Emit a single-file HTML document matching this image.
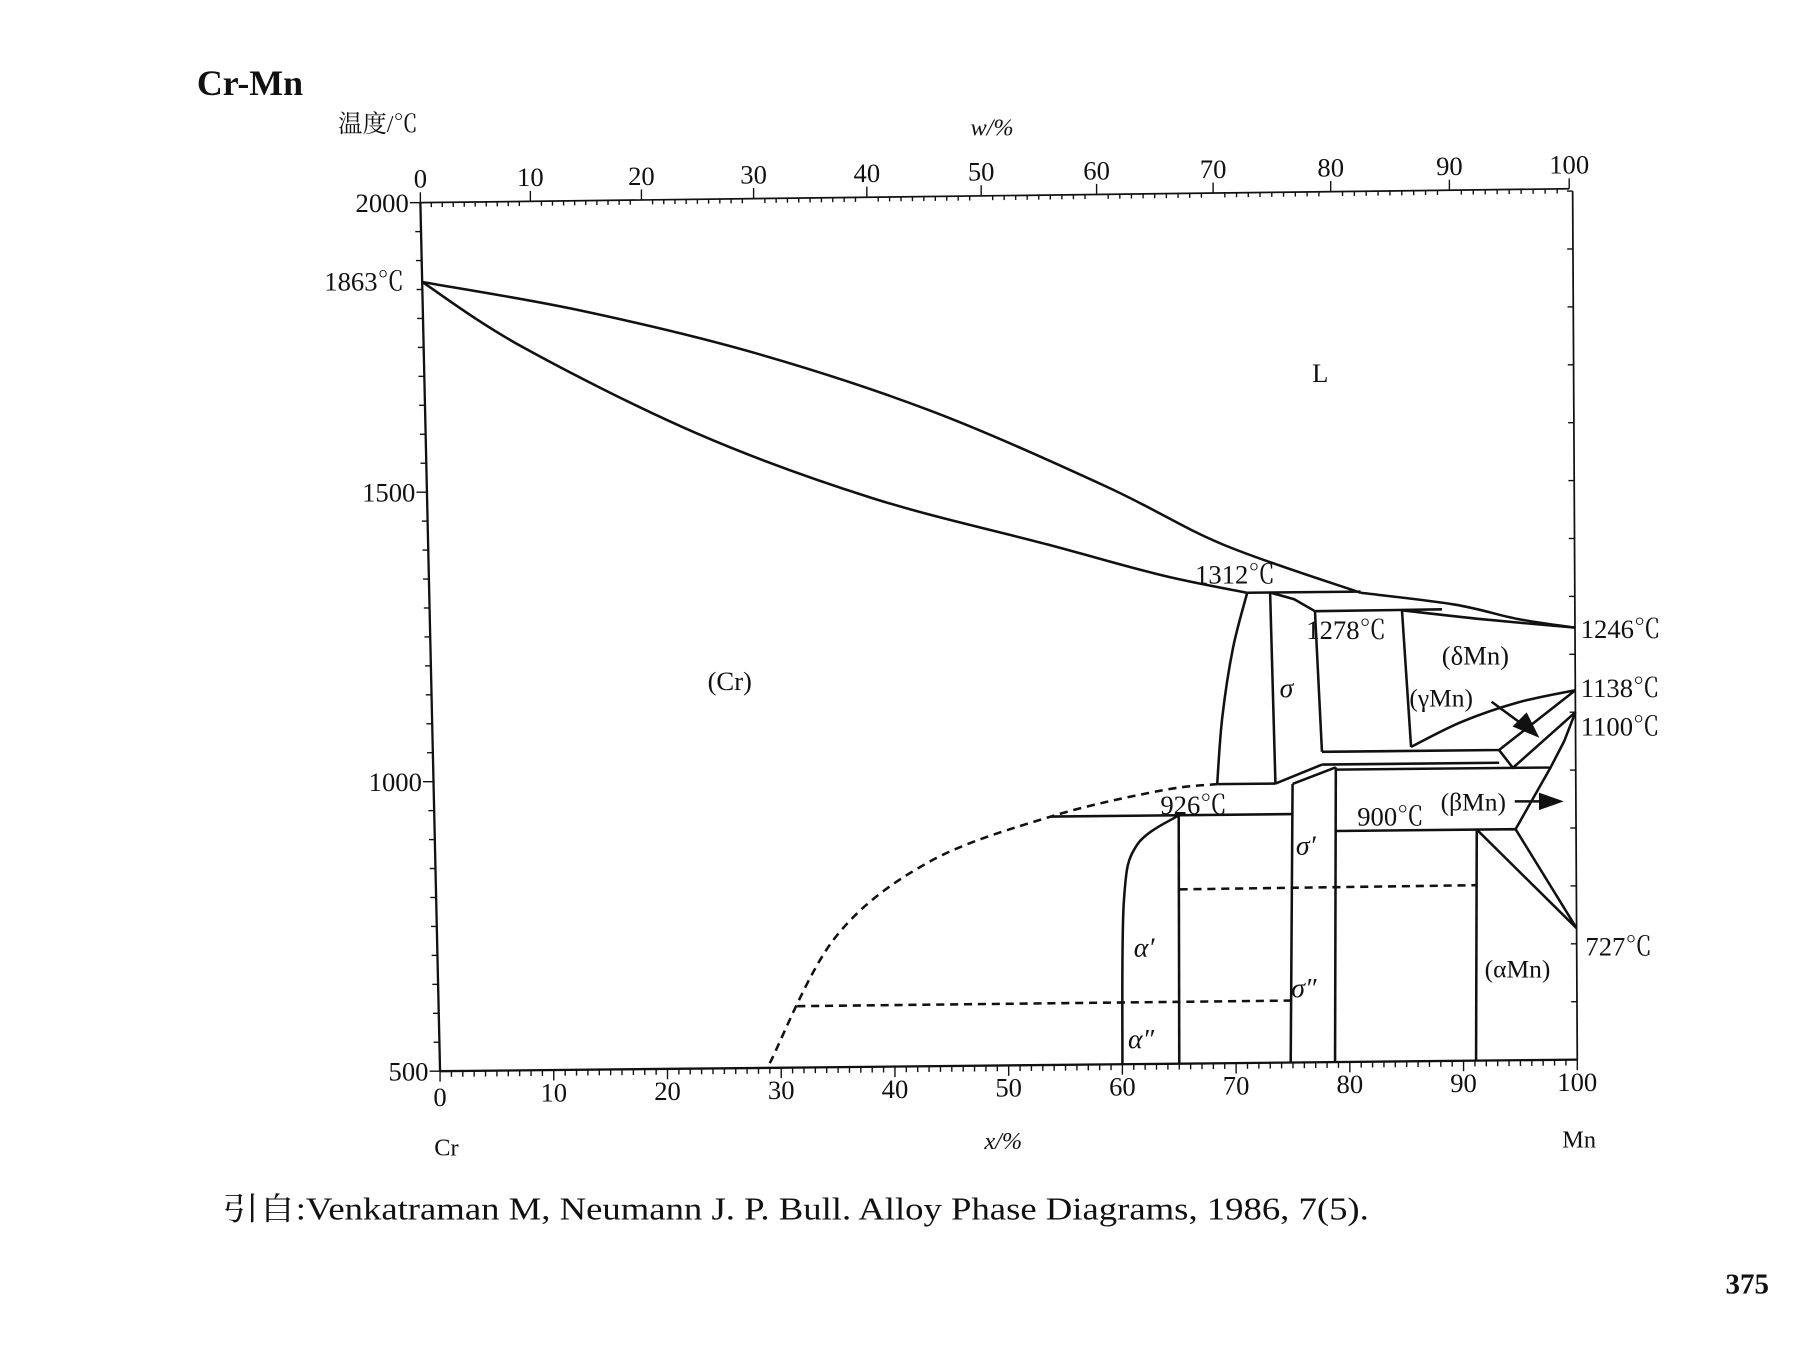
<!DOCTYPE html>
<html><head><meta charset="utf-8"><style>
html,body{margin:0;padding:0;background:#fff;}
svg{display:block;}
text{font-family:"Liberation Serif","Noto Serif CJK SC",serif;fill:#111;}
</style></head><body>
<svg id="chart" width="1795" height="1346" viewBox="0 0 1550 1162.3" preserveAspectRatio="none" xmlns="http://www.w3.org/2000/svg">
<g id="axes"></g>
<g id="curves" fill="none" stroke="#111" stroke-width="2.2" stroke-linejoin="round"></g>
<text x="170" y="82" font-size="31" font-weight="bold">Cr-Mn</text>
<text x="292" y="114" font-size="21">温度/℃</text>
<text x="838" y="117" font-size="21" font-style="italic">w/%</text>
<text x="850" y="992" font-size="21" font-style="italic">x/%</text>
<text x="375" y="998" font-size="21">Cr</text>
<text x="1349" y="991" font-size="21">Mn</text>
<text x="280" y="251" font-size="23">1863℃</text>
<text x="1365" y="551" font-size="23">1246℃</text>
<text x="1365" y="602" font-size="23">1138℃</text>
<text x="1365" y="635" font-size="23">1100℃</text>
<text x="1369" y="825" font-size="23">727℃</text>
<text x="1133" y="330" font-size="23">L</text>
<text x="611" y="596" font-size="23">(Cr)</text>
<text x="1032" y="504" font-size="23">1312℃</text>
<text x="1128" y="552" font-size="23">1278℃</text>
<text x="1245" y="574" font-size="23">(δMn)</text>
<text x="1105" y="602" font-size="24" font-style="italic">σ</text>
<text x="1217" y="610" font-size="22">(γMn)</text>
<text x="1002" y="703" font-size="23">926℃</text>
<text x="1172" y="713" font-size="23">900℃</text>
<text x="1244" y="700" font-size="22">(βMn)</text>
<text x="1119" y="738" font-size="24" font-style="italic">σ′</text>
<text x="979" y="826" font-size="24" font-style="italic">α′</text>
<text x="1115" y="861" font-size="24" font-style="italic">σ″</text>
<text x="1282" y="844" font-size="22">(αMn)</text>
<text x="974" y="905" font-size="24" font-style="italic">α″</text>
<text x="192" y="1053" font-size="27" textLength="990" lengthAdjust="spacingAndGlyphs">引自:Venkatraman M, Neumann J. P. Bull.  Alloy Phase Diagrams, 1986, 7(5).</text>
<text x="1490" y="1117" font-size="25" font-weight="bold">375</text>
<g stroke="#111" stroke-width="2.2" fill="#111">
<line x1="1288" y1="606" x2="1318" y2="628"/>
<polygon points="1327,635 1308,627 1318,617"/>
<line x1="1308" y1="692" x2="1335" y2="692"/>
<polygon points="1347,692 1330,686 1330,698"/>
</g>
</svg>
<script>
// ---- data (x = at.% Mn, T = °C) ----
const xTicks=[0,10,20,30,40,50,60,70,80,90,100];
const wTicks=[0,10,20,30,40,50,60,70,80,90,100];
const tTicks=[500,1000,1500,2000];
const liquidusCr=[[0,1863],[13.7,1811],[28.9,1734],[44.1,1631],[59.2,1498],[69.3,1396],[81.3,1310]];
const solidusCr=[[0,1863],[8.6,1749],[23.7,1596],[38.8,1482],[54,1399],[64.1,1343],[71.4,1312]];
const liquidusMn=[[81.3,1310],[89.5,1288],[95,1262],[100,1246]];
const solidusMn=[[84.9,1279],[92,1262],[100,1246]];
const eutectic1312=[[71.4,1312],[81.3,1312]];
const peritectic1278=[[77.3,1279],[88.4,1280]];
const sigmaLeft=[[71.4,1312],[70.1,1216],[69.1,1096],[68.6,982]];
const sigmaRight=[[73.4,1312],[73.7,982]];
const sigmaTop=[[73.4,1312],[75.5,1300],[77.3,1279],[77.8,1036]];
const eutectoid=[[68.6,982],[73.7,982]];
const ramp1=[[73.7,982],[77.8,1014]];
const ramp2=[[75.2,981],[79,1009]];
const sigmaPrimeL=[[75.2,981],[74.8,500]];
const sigmaPrimeR=[[79,1009],[78.7,500]];
const deltaLeft=[[84.9,1279],[85.6,1043]];
const gammaDelta=[[85.6,1043],[90,1085],[95,1118],[100,1138]];
const line1138a=[[77.8,1036],[93.3,1036],[100,1138]];
const line1138b=[[77.8,1014],[93.3,1014]];
const gammaLow=[[93.3,1036],[94.5,1005],[100,1100]];
const betaTop=[[79,1005],[97.8,1005],[99,1050],[100,1100]];
const betaRight=[[97.8,1005],[94.7,899]];
const line900=[[79,899],[94.7,899],[100,727]];
const alphaMnL=[[91.3,899],[100,727]];
const alphaMnV=[[91.3,899],[91.1,500]];
const line926=[[54,929],[75.2,929]];
const alphaPrimeCurve=[[65.2,929],[61.5,878],[60.3,780],[60,500]];
const alphaPrimeV=[[65.2,929],[65,500]];
const dome=[[29,508],[34.9,723],[43.2,852],[54,929],[63.7,972],[68.6,982]];
const dash800=[[65.2,801],[91.3,803]];
const dash600=[[31.5,606],[75.2,607]];
// ---- axis functions (bilinear, scan skew) ----
function px(x,T){const f=(T-500)/1500;return 380+9.82*x - f*(17*(1-x/100)+4*(x/100));}
function py(x,T){const f=(T-500)/1500;return 925-0.1*x - f*750;}
function wpx(w){return 363+9.45*w+0.0047*w*w;}
function wpy(w){return 175-0.12*w;}
const NS="http://www.w3.org/2000/svg";
const axes=document.getElementById('axes'),curves=document.getElementById('curves');
function mk(tag,attrs,parent){const e=document.createElementNS(NS,tag);for(const k in attrs)e.setAttribute(k,attrs[k]);parent.appendChild(e);return e;}
function line(x1,y1,x2,y2,w,name){const e=mk('line',{x1:x1,y1:y1,x2:x2,y2:y2,stroke:'#111','stroke-width':w},axes);

return e;}
function txt(s,x,y,anchor,name){const e=mk('text',{x:x,y:y,'font-size':23,'text-anchor':anchor},axes);e.textContent=s;

return e;}
line(px(0,500),py(0,500),px(0,2000),py(0,2000),2,'left-axis');
line(px(0,500),py(0,500),px(100,500),py(100,500),2,'bottom-axis');
line(px(100,500),py(100,500),px(100,2000),py(100,2000),1.5,'right-axis');
line(wpx(0),wpy(0),wpx(100),wpy(100),1.5,'top-axis');
for(let i=0;i<=100;i++){const X=px(i,500),Y=py(i,500);const maj=i%10===0;line(X,Y,X,Y+(maj?9:5),1.2,maj?'x-major-tick':'x-minor-tick');}
xTicks.forEach(v=>{txt(String(v),px(v,500),py(v,500)+(v===0?30:27),'middle','x-tick-label');});
for(let i=0;i<=100;i++){const X=wpx(i),Y=wpy(i);const maj=i%10===0;line(X,Y,X,Y+(maj?-9:4),1.2,maj?'w-major-tick':'w-minor-tick');}
wTicks.forEach(v=>{txt(String(v),wpx(v),wpy(v)-13,'middle','w-tick-label');});
for(let T=500;T<=2000;T+=50){const X=px(0,T),Y=py(0,T);const maj=T%500===0;line(X,Y,X-(maj?9:5),Y,1.2,maj?'y-major-tick':'y-minor-tick');}
tTicks.forEach(v=>{txt(String(v),px(0,v)-10,py(0,v)+8,'end','y-tick-label');});
for(let T=500;T<=2000;T+=100){const X=px(100,T),Y=py(100,T);line(X,Y,X-5,Y,1.2,'right-tick');}
function poly(pts,name,dash,smooth){let d='';
 if(smooth&&pts.length>2){const P=pts.map(p=>[px(p[0],p[1]),py(p[0],p[1])]);d='M'+P[0][0]+','+P[0][1];
  for(let i=0;i<P.length-1;i++){const p0=P[Math.max(i-1,0)],p1=P[i],p2=P[i+1],p3=P[Math.min(i+2,P.length-1)];
   const c1=[p1[0]+(p2[0]-p0[0])/6,p1[1]+(p2[1]-p0[1])/6],c2=[p2[0]-(p3[0]-p1[0])/6,p2[1]-(p3[1]-p1[1])/6];
   d+=' C'+c1[0]+','+c1[1]+' '+c2[0]+','+c2[1]+' '+p2[0]+','+p2[1];}}
 else d='M'+pts.map(p=>px(p[0],p[1])+','+py(p[0],p[1])).join(' L');
 const e=mk('path',{d:d},curves);if(dash)e.setAttribute('stroke-dasharray','7 5');
 
 }
poly(liquidusCr,'liquidus-cr',false,true);
poly(solidusCr,'solidus-cr',false,true);
poly(liquidusMn,'liquidus-mn',false,true);
poly(solidusMn,'solidus-mn',false,true);
poly(eutectic1312,'eutectic-1312');
poly(peritectic1278,'peritectic-1278');
poly(sigmaLeft,'sigma-left-boundary',false,true);
poly(sigmaRight,'sigma-right-boundary');
poly(sigmaTop,'sigma-top-boundary');
poly(eutectoid,'eutectoid-line');
poly(ramp1,'ramp-upper');poly(ramp2,'ramp-lower');
poly(sigmaPrimeL,'sigma-prime-left');poly(sigmaPrimeR,'sigma-prime-right');
poly(deltaLeft,'delta-mn-boundary');
poly(gammaDelta,'gamma-delta-boundary',false,true);
poly(line1138a,'line-1138');poly(line1138b,'line-1138-lower');
poly(gammaLow,'gamma-lower-boundary');
poly(betaTop,'beta-top-boundary');
poly(betaRight,'beta-right-boundary');
poly(line900,'line-900');
poly(alphaMnL,'alpha-mn-boundary');poly(alphaMnV,'alpha-mn-vertical');
poly(line926,'line-926');
poly(alphaPrimeCurve,'alpha-prime-boundary',false,true);
poly(alphaPrimeV,'alpha-prime-vertical');
poly(dome,'magnetic-dome',true,true);
poly(dash800,'dashed-800',true);
poly(dash600,'dashed-600',true);
</script>
</body></html>
